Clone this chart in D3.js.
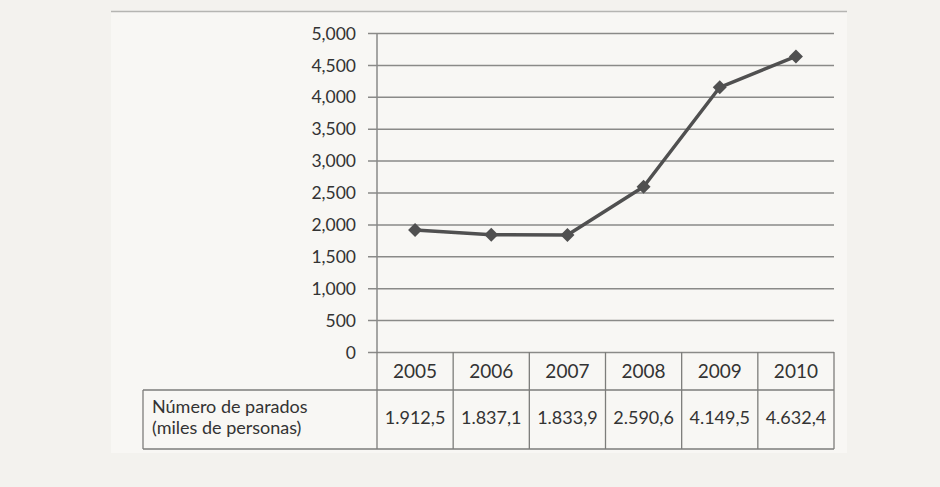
<!DOCTYPE html>
<html>
<head>
<meta charset="utf-8">
<script src="https://cdn.jsdelivr.net/npm/d3@7"></script>
<style>
  html, body { margin: 0; padding: 0; background: #f3f2ee; }
  svg { display: block; }
  text { font-family: Lato, "Open Sans", sans-serif; fill: #333; }
</style>
</head>
<body>
<svg id="chart" width="940" height="487"></svg>
<script>
// Unemployment in Spain, thousands of people
const years = ["2005", "2006", "2007", "2008", "2009", "2010"];
const parados = [1912.5, 1837.1, 1833.9, 2590.6, 4149.5, 4632.4];
const tableValues = ["1.912,5", "1.837,1", "1.833,9", "2.590,6", "4.149,5", "4.632,4"];
const yTicks = [0, 500, 1000, 1500, 2000, 2500, 3000, 3500, 4000, 4500, 5000];
const rowLabel = ["Número de parados", "(miles de personas)"];

const svg = d3.select("#chart");

// outer panel
svg.append("rect")
  .attr("x", 111).attr("y", 11).attr("width", 736).attr("height", 442)
  .attr("fill", "#f8f7f4");
svg.append("line")
  .attr("x1", 111).attr("x2", 847).attr("y1", 11.5).attr("y2", 11.5)
  .attr("stroke", "#b5b5b2").attr("stroke-width", 1.5);

const plotLeft = 377, plotRight = 834, plotTop = 33, plotBottom = 352;
const x = d3.scaleBand().domain(years).range([plotLeft, plotRight]);
const y = d3.scaleLinear().domain([0, 5000]).range([plotBottom, plotTop]);

const gridColor = "#8a8a88";

// y axis with gridlines extending across the plot
const yAxis = d3.axisLeft(y)
  .tickValues(yTicks)
  .tickFormat(d3.format(","))
  .tickSize(-(plotRight - plotLeft))
  .tickPadding(0);

const gy = svg.append("g")
  .attr("transform", `translate(${plotLeft},0)`)
  .call(yAxis);
gy.select(".domain").remove();
gy.selectAll(".tick line")
  .attr("stroke", gridColor).attr("stroke-width", 1.5)
  .attr("x1", -9);
gy.selectAll(".tick text")
  .attr("x", -21)
  .attr("dy", "0.35em")
  .style("font-size", "17.5px")
  .attr("fill", "#333");

// vertical axis line
svg.append("line")
  .attr("x1", plotLeft).attr("x2", plotLeft)
  .attr("y1", plotTop).attr("y2", plotBottom)
  .attr("stroke", gridColor).attr("stroke-width", 1.5);

// data table under the plot
const tableTop = plotBottom, headerBottom = 390, tableBottom = 449, labelLeft = 143;
const tg = svg.append("g").attr("fill", "none").attr("stroke", "#7d7d7b").attr("stroke-width", 1.3);

// column separators
x.domain().forEach(d => {
  tg.append("line")
    .attr("x1", x(d)).attr("x2", x(d))
    .attr("y1", tableTop).attr("y2", tableBottom);
});
tg.append("line")
  .attr("x1", plotRight).attr("x2", plotRight)
  .attr("y1", tableTop).attr("y2", tableBottom);
// horizontal rules
tg.append("line")
  .attr("x1", labelLeft).attr("x2", plotRight)
  .attr("y1", headerBottom).attr("y2", headerBottom);
tg.append("line")
  .attr("x1", labelLeft).attr("x2", plotRight)
  .attr("y1", tableBottom).attr("y2", tableBottom);
tg.append("line")
  .attr("x1", labelLeft).attr("x2", labelLeft)
  .attr("y1", headerBottom).attr("y2", tableBottom);

// header: years
svg.append("g").selectAll("text")
  .data(years).join("text")
  .attr("x", d => x(d) + x.bandwidth() / 2)
  .attr("y", 378)
  .attr("text-anchor", "middle")
  .style("font-size", "19px")
  .text(d => d);

// values row
svg.append("g").selectAll("text")
  .data(tableValues).join("text")
  .attr("x", (d, i) => x(years[i]) + x.bandwidth() / 2)
  .attr("y", 424)
  .attr("text-anchor", "middle")
  .style("font-size", "18px")
  .text(d => d);

// row label, one text per line
svg.append("g").selectAll("text")
  .data(rowLabel).join("text")
  .attr("x", 152)
  .attr("y", (d, i) => 413 + i * 21)
  .style("font-size", "18px")
  .text(d => d);

// line series
const line = d3.line()
  .x((d, i) => x(years[i]) + x.bandwidth() / 2)
  .y(d => y(d));

svg.append("path")
  .datum(parados)
  .attr("d", line)
  .attr("fill", "none")
  .attr("stroke", "#505050")
  .attr("stroke-width", 3.5)
  .attr("stroke-linejoin", "round");

// diamond markers
svg.append("g").selectAll("path")
  .data(parados).join("path")
  .attr("transform", (d, i) => `translate(${x(years[i]) + x.bandwidth() / 2},${y(d)})`)
  .attr("d", "M0,-7L7,0L0,7L-7,0Z")
  .attr("fill", "#505050");
</script>
</body>
</html>
